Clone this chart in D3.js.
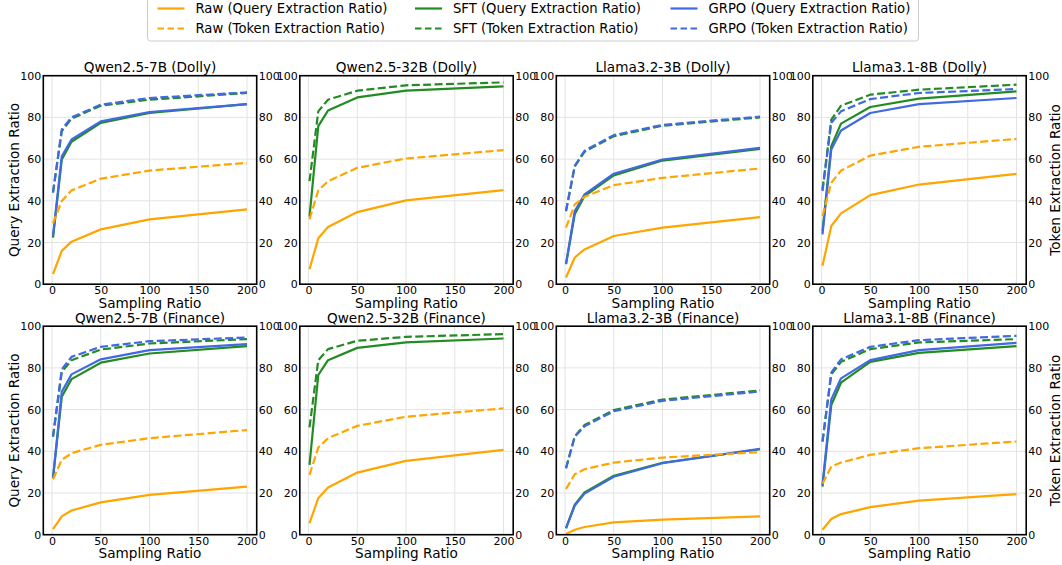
<!DOCTYPE html>
<html>
<head>
<meta charset="utf-8">
<script src="https://cdn.jsdelivr.net/npm/d3@7/dist/d3.min.js"></script>
<style>
  html, body { margin: 0; padding: 0; background: #fff; }
  svg { display: block; font-family: "DejaVu Sans", sans-serif; }
</style>
</head>
<body>
<svg id="chart" width="1062" height="565"></svg>
<script>
// ---------------- DATA ----------------
const samplingRatios = [1, 10, 20, 50, 100, 200];
const panelTitles = [
  "Qwen2.5-7B (Dolly)", "Qwen2.5-32B (Dolly)", "Llama3.2-3B (Dolly)", "Llama3.1-8B (Dolly)",
  "Qwen2.5-7B (Finance)", "Qwen2.5-32B (Finance)", "Llama3.2-3B (Finance)", "Llama3.1-8B (Finance)"
];
const xTicks = [0, 50, 100, 150, 200];
const yTicks = [0, 20, 40, 60, 80, 100];

// Query extraction ratio (left axis)
const rawQuery = [
  [4.8, 16.0, 20.4, 26.3, 31.1, 35.9],
  [7.2, 22.0, 27.4, 34.6, 40.2, 45.1],
  [3.2, 12.8, 16.7, 23.1, 27.1, 32.2],
  [8.8, 27.9, 34.0, 42.7, 47.8, 52.9],
  [2.7, 8.8, 11.6, 15.5, 19.1, 23.1],
  [5.6, 17.5, 22.6, 29.8, 35.4, 40.7],
  [0.3, 2.4, 3.7, 5.9, 7.2, 8.8],
  [2.4, 7.5, 9.9, 13.2, 16.3, 19.5]
];
const sftQuery = [
  [22.3, 59.8, 68.3, 77.4, 82.1, 86.4],
  [32.4, 75.8, 83.3, 89.6, 92.8, 94.9],
  [9.6, 33.5, 42.3, 52.2, 59.3, 64.9],
  [25.5, 66.2, 77.0, 85.0, 89.0, 92.5],
  [27.1, 66.2, 74.6, 82.5, 86.9, 90.4],
  [33.5, 76.6, 83.7, 89.6, 92.2, 94.1],
  [3.2, 14.4, 20.3, 28.3, 34.5, 41.0],
  [23.1, 62.2, 72.9, 82.9, 87.2, 90.4]
];
const grpoQuery = [
  [23.0, 61.4, 69.4, 78.1, 82.6, 86.4],
  null,
  [9.6, 35.1, 43.1, 53.0, 59.8, 65.4],
  [23.9, 64.6, 73.7, 82.1, 86.4, 89.3],
  [27.1, 68.6, 76.9, 84.1, 88.5, 91.4],
  null,
  [3.0, 14.0, 19.7, 27.8, 34.3, 41.2],
  [23.9, 64.9, 75.0, 83.7, 88.5, 92.0]
];
// Token extraction ratio (right axis)
const rawToken = [
  [29.2, 39.9, 45.0, 50.6, 54.5, 58.2],
  [31.1, 45.0, 49.4, 55.8, 60.3, 64.3],
  [27.1, 38.3, 41.9, 47.5, 51.0, 55.5],
  [32.7, 48.6, 54.5, 61.7, 65.9, 69.7],
  [26.6, 35.9, 39.1, 43.1, 46.3, 50.2],
  [28.7, 41.8, 46.3, 52.2, 56.6, 60.6],
  [21.9, 29.0, 31.4, 34.6, 37.0, 39.6],
  [24.4, 32.7, 34.6, 38.3, 41.5, 44.7]
];
const sftToken = [
  [43.9, 73.4, 79.4, 85.6, 88.5, 91.7],
  [49.4, 82.9, 88.5, 92.8, 95.4, 96.8],
  [35.0, 56.5, 63.5, 71.0, 76.0, 80.0],
  [45.5, 78.9, 85.6, 90.9, 93.3, 95.7],
  [47.0, 78.1, 83.7, 88.8, 91.7, 93.8],
  [51.5, 83.7, 89.0, 93.0, 94.9, 96.2],
  [32.0, 47.2, 52.6, 59.8, 64.8, 69.2],
  [44.7, 76.9, 82.9, 89.0, 92.2, 93.8]
];
const grpoToken = [
  [44.0, 74.2, 80.0, 86.1, 89.3, 92.0],
  null,
  [35.2, 56.8, 64.0, 71.5, 76.4, 80.4],
  [44.7, 77.4, 82.9, 88.8, 91.7, 93.6],
  [47.0, 79.3, 85.3, 90.1, 92.8, 94.6],
  null,
  [31.8, 47.0, 52.0, 59.2, 64.2, 68.7],
  [44.7, 77.7, 84.1, 90.1, 93.3, 95.4]
];

const legendLabels = [
  "Raw (Query Extraction Ratio)", "Raw (Token Extraction Ratio)",
  "SFT (Query Extraction Ratio)", "SFT (Token Extraction Ratio)",
  "GRPO (Query Extraction Ratio)", "GRPO (Token Extraction Ratio)"
];

// ---------------- STYLE ----------------
const colors = { raw: "#FFA500", sft: "#228B22", grpo: "#4169E1" };
const dashPattern = "8,3.4";
const lineW = 2.2;

const svg = d3.select("#chart");
const panelLeft0 = 43.3, panelStep = 256.5, panelW = 213.4, panelH = 208.5;
const panelTops = [75.7, 326.2];

const series = [
  { data: rawQuery, color: colors.raw, dashed: false },
  { data: sftQuery, color: colors.sft, dashed: false },
  { data: grpoQuery, color: colors.grpo, dashed: false },
  { data: rawToken, color: colors.raw, dashed: true },
  { data: sftToken, color: colors.sft, dashed: true },
  { data: grpoToken, color: colors.grpo, dashed: true }
];

panelTitles.forEach((title, i) => {
  const row = Math.floor(i / 4), col = i % 4;
  const left = panelLeft0 + col * panelStep;
  const top = panelTops[row];
  const x = d3.scaleLinear().domain([-8.95, 209.95]).range([left, left + panelW]);
  const y = d3.scaleLinear().domain([0, 100]).range([top + panelH, top]);
  const yR = d3.scaleLinear().domain([0, 100]).range([top + panelH, top]);
  const g = svg.append("g");

  // grid
  g.append("g").selectAll("line.vx").data(xTicks).join("line")
    .attr("x1", d => x(d)).attr("x2", d => x(d))
    .attr("y1", top).attr("y2", top + panelH)
    .attr("stroke", "#e3e3e3").attr("stroke-width", 1);
  g.append("g").selectAll("line.hy").data(yTicks).join("line")
    .attr("y1", d => y(d)).attr("y2", d => y(d))
    .attr("x1", left).attr("x2", left + panelW)
    .attr("stroke", "#e3e3e3").attr("stroke-width", 1);

  // lines
  series.forEach(s => {
    const vals = s.data[i];
    if (!vals) return;
    const sc = s.dashed ? yR : y;
    const line = d3.line().x((d, k) => x(samplingRatios[k])).y(d => sc(d));
    g.append("path").datum(vals)
      .attr("d", line)
      .attr("fill", "none")
      .attr("stroke", s.color)
      .attr("stroke-width", lineW)
      .attr("stroke-linejoin", "round")
      .attr("stroke-dasharray", s.dashed ? dashPattern : null);
  });

  // axes
  const ax = g.append("g").attr("transform", `translate(0,${top + panelH})`)
    .call(d3.axisBottom(x).tickValues(xTicks).tickSize(0).tickPadding(2));
  const ay = g.append("g").attr("transform", `translate(${left},0)`)
    .call(d3.axisLeft(y).tickValues(yTicks).tickSize(0).tickPadding(2));
  const ayR = g.append("g").attr("transform", `translate(${left + panelW},0)`)
    .call(d3.axisRight(yR).tickValues(yTicks).tickSize(0).tickPadding(2));
  [ax, ay, ayR].forEach(a => {
    a.select(".domain").remove();
    a.selectAll("text").attr("font-size", 11).attr("fill", "#000")
      .attr("font-family", "DejaVu Sans");
  });

  // spines
  g.append("rect").attr("x", left).attr("y", top).attr("width", panelW).attr("height", panelH)
    .attr("fill", "none").attr("stroke", "#000").attr("stroke-width", 1.6);

  // title
  g.append("text").attr("x", left + panelW / 2).attr("y", top - 3.5)
    .attr("text-anchor", "middle").attr("font-size", 13.6).text(title);

  // x label
  g.append("text").attr("x", left + panelW / 2).attr("y", top + panelH + 23.5)
    .attr("text-anchor", "middle").attr("font-size", 13.6).text("Sampling Ratio");

  if (col === 0) {
    g.append("text").attr("transform", `translate(${left - 24},${top + panelH / 2}) rotate(-90)`)
      .attr("text-anchor", "middle").attr("font-size", 13.6).text("Query Extraction Ratio");
  }
  if (col === 3) {
    g.append("text").attr("transform", `translate(${left + panelW + 34},${top + panelH / 2}) rotate(-90)`)
      .attr("text-anchor", "middle").attr("font-size", 13.6).text("Token Extraction Ratio");
  }
});

// ---------------- LEGEND ----------------
const lg = svg.append("g");
lg.append("rect").attr("x", 147.5).attr("y", -3).attr("width", 771).attr("height", 44)
  .attr("rx", 3).attr("fill", "#fff").attr("stroke", "#cccccc").attr("stroke-width", 1);
const legendCols = [195.5, 453, 708.5];
const legendRows = [8.5, 28.5];
const legendStyles = [
  { color: colors.raw, dashed: false }, { color: colors.raw, dashed: true },
  { color: colors.sft, dashed: false }, { color: colors.sft, dashed: true },
  { color: colors.grpo, dashed: false }, { color: colors.grpo, dashed: true }
];
legendLabels.forEach((lab, k) => {
  const c = Math.floor(k / 2), r = k % 2;
  const tx = legendCols[c], ty = legendRows[r];
  const st = legendStyles[k];
  lg.append("line").attr("x1", tx - 38).attr("x2", tx - 11).attr("y1", ty).attr("y2", ty)
    .attr("stroke", st.color).attr("stroke-width", lineW)
    .attr("stroke-dasharray", st.dashed ? "6.5,3.5" : null);
  lg.append("text").attr("x", tx).attr("y", ty).attr("dy", "0.36em")
    .attr("font-size", 13.2).text(lab);
});
</script>
</body>
</html>
